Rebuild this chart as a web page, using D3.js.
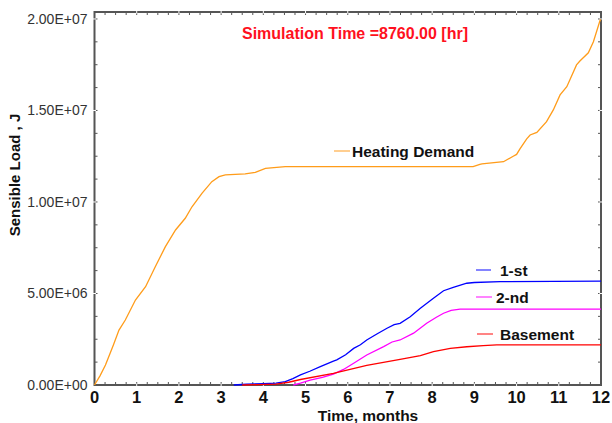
<!DOCTYPE html>
<html><head><meta charset="utf-8">
<script src="https://cdn.jsdelivr.net/npm/d3@7"></script>
<style>
body{margin:0;background:#fff;}
svg{display:block;font-family:"Liberation Sans",Arial,sans-serif;}
</style></head><body>
<svg id="c" width="612" height="423"></svg>
<script>
// ---- data (months, Joules) ----
const heatMonths = [0,0.13,0.26,0.45,0.58,0.73,0.97,1.21,1.44,1.68,1.92,2.15,2.31,2.55,2.78,2.95,3.10,3.57,3.81,4.05,4.52,8.97,9.13,9.18,9.69,9.92,10.0,10.08,10.24,10.32,10.48,10.71,10.87,11.03,11.19,11.42,11.5,11.7,11.82,11.98,12];
const heatValues = [0,0.5e6,1.09e6,2.2e6,3.0e6,3.55e6,4.64e6,5.37e6,6.46e6,7.56e6,8.47e6,9.11e6,9.74e6,10.48e6,11.11e6,11.38e6,11.48e6,11.53e6,11.62e6,11.84e6,11.93e6,11.93e6,12.06e6,12.08e6,12.2e6,12.5e6,12.6e6,12.9e6,13.45e6,13.66e6,13.8e6,14.39e6,15.03e6,15.85e6,16.3e6,17.49e6,17.7e6,18.15e6,18.76e6,19.94e6,19.95e6];
const firstMonths = [3.3,3.6,4.0,4.3,4.52,4.7,4.88,5.1,5.35,5.66,5.74,5.95,6.14,6.3,6.45,6.7,6.93,7.1,7.24,7.48,7.72,8.03,8.27,8.5,8.82,9.0,9.61,12];
const firstValues = [0,0.04e6,0.07e6,0.1e6,0.18e6,0.35e6,0.55e6,0.75e6,1.0e6,1.3e6,1.37e6,1.65e6,2.0e6,2.2e6,2.46e6,2.8e6,3.1e6,3.3e6,3.37e6,3.73e6,4.19e6,4.74e6,5.15e6,5.34e6,5.56e6,5.6e6,5.65e6,5.68e6];
const secondMonths = [4.71,4.88,5.11,5.4,5.66,5.9,6.14,6.45,6.85,7.05,7.24,7.56,7.87,8.1,8.27,8.45,8.66,12];
const secondValues = [0,0.1e6,0.27e6,0.42e6,0.6e6,0.85e6,1.19e6,1.64e6,2.1e6,2.35e6,2.46e6,2.83e6,3.37e6,3.7e6,3.92e6,4.08e6,4.15e6,4.15e6];
const baseMonths = [3.5,3.9,4.3,4.6,4.88,5.66,6.45,7.24,7.72,8.03,8.43,8.82,9.21,9.53,12];
const baseValues = [0,0.02e6,0.05e6,0.15e6,0.3e6,0.64e6,1.07e6,1.4e6,1.6e6,1.82e6,2.0e6,2.09e6,2.15e6,2.19e6,2.19e6];
const seriesNames = ["Heating Demand","1-st","2-nd","Basement"];
const seriesColors = ["#ff9c1a","#0000ff","#ff00ff","#ff0000"];
const xTicks = [0,1,2,3,4,5,6,7,8,9,10,11,12];
const yTicks = [0,5e6,1e7,1.5e7,2e7];
const yTickLabels = ["0.00E+00","5.00E+06","1.00E+07","1.50E+07","2.00E+07"];
const titleText = "Simulation Time =8760.00 [hr]";
const xTitle = "Time, months";
const yTitle = "Sensible Load , J";

// ---- layout ----
const L=94.5, R=601, T=12, B=385;
const x = d3.scaleLinear().domain([0,12]).range([L,R]);
const y = d3.scaleLinear().domain([0,2.038e7]).range([B,T]);
const svg = d3.select("#c");

const axisColor="#555";
// minor ticks
const xMinor = d3.range(0,12.001,0.25);
const yMinor = d3.range(0,2.038e7,1.25e6);
const g = svg.append("g");
g.selectAll(".xb").data(xMinor).join("line").attr("x1",d=>x(d)).attr("x2",d=>x(d)).attr("y1",B).attr("y2",B-3).attr("stroke",axisColor).attr("stroke-width",1);
g.selectAll(".xt").data(xMinor).join("line").attr("x1",d=>x(d)).attr("x2",d=>x(d)).attr("y1",T).attr("y2",T+3).attr("stroke",axisColor).attr("stroke-width",1);
g.selectAll(".yl").data(yMinor).join("line").attr("y1",d=>y(d)).attr("y2",d=>y(d)).attr("x1",L).attr("x2",L+3).attr("stroke",axisColor).attr("stroke-width",1);
g.selectAll(".yr").data(yMinor).join("line").attr("y1",d=>y(d)).attr("y2",d=>y(d)).attr("x1",R).attr("x2",R-3).attr("stroke",axisColor).attr("stroke-width",1);
// frame
g.append("rect").attr("x",L).attr("y",T).attr("width",R-L).attr("height",B-T).attr("fill","none").attr("stroke",axisColor).attr("stroke-width",2);
// white notches at majors
g.selectAll(".wx").data(xTicks.slice(1,-1)).join("line").attr("x1",d=>x(d)).attr("x2",d=>x(d)).attr("y1",B-1.5).attr("y2",B+1.5).attr("stroke","#fff").attr("stroke-width",1);
g.selectAll(".wxt").data(xTicks.slice(1,-1)).join("line").attr("x1",d=>x(d)).attr("x2",d=>x(d)).attr("y1",T-1.5).attr("y2",T+1.5).attr("stroke","#fff").attr("stroke-width",1);
g.selectAll(".wy").data(yTicks.slice(1)).join("line").attr("y1",d=>y(d)).attr("y2",d=>y(d)).attr("x1",L-1.5).attr("x2",L+1.5).attr("stroke","#fff").attr("stroke-width",1);
g.selectAll(".wyr").data(yTicks.slice(1)).join("line").attr("y1",d=>y(d)).attr("y2",d=>y(d)).attr("x1",R-1.5).attr("x2",R+1.5).attr("stroke","#fff").attr("stroke-width",1);

// tick labels
svg.append("g").selectAll("text").data(xTicks).join("text")
  .attr("x",d=>x(d)).attr("y",B+18).attr("text-anchor","middle")
  .attr("font-size",16.5).attr("font-weight","bold").attr("fill","#111").text(d=>d);
svg.append("g").selectAll("text").data(yTicks).join("text")
  .attr("x",L-7).attr("y",d=>y(d)+5).attr("text-anchor","end")
  .attr("font-size",14).attr("fill","#333").text((d,i)=>yTickLabels[i]);

// axis titles
svg.append("text").attr("x",368).attr("y",421).attr("text-anchor","middle")
  .attr("font-size",15.5).attr("font-weight","bold").attr("fill","#111").text(xTitle);
svg.append("text").attr("transform","translate(20,175) rotate(-90)").attr("text-anchor","middle")
  .attr("font-size",15).attr("font-weight","bold").attr("fill","#111").text(yTitle);
svg.append("text").attr("x",355).attr("y",39).attr("text-anchor","middle")
  .attr("font-size",16).attr("font-weight","bold").attr("fill","#ff1020").text(titleText);

// series
const series = [
  [heatMonths,heatValues],[firstMonths,firstValues],[secondMonths,secondValues],[baseMonths,baseValues]
];
const line = d3.line().x(d=>x(d[0])).y(d=>y(d[1]));
series.forEach((s,i)=>{
  const pts = s[0].map((m,k)=>[m,s[1][k]]);
  svg.append("path").datum(pts).attr("d",line).attr("fill","none")
    .attr("stroke",seriesColors[i]).attr("stroke-width",1.3);
});

// legend labels placed near curves
const legX1 = [334,476,476,477], legX2=[350,491,492,493], legY=[151,270,297,334], txtX=[352,500,496,500];
seriesNames.forEach((n,i)=>{
  svg.append("line").attr("x1",legX1[i]).attr("x2",legX2[i]).attr("y1",legY[i]).attr("y2",legY[i])
    .attr("stroke",seriesColors[i]).attr("stroke-width",1.2).attr("opacity",0.8);
  svg.append("text").attr("x",txtX[i]).attr("y",legY[i]+5.5).attr("font-size",15.5).attr("font-weight","bold")
    .attr("fill","#111").text(n);
});
</script>
</body></html>
